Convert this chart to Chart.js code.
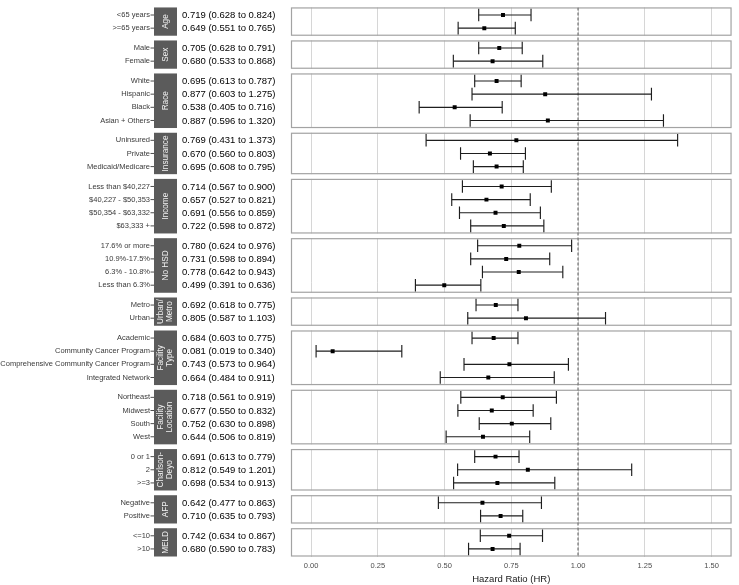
<!DOCTYPE html>
<html>
<head>
<meta charset="utf-8">
<script src="https://cdn.jsdelivr.net/npm/chart.js@4"></script>
<style>
  html, body { margin: 0; padding: 0; background: #ffffff; }
  #wrap { width: 739px; height: 585px; }
</style>
</head>
<body>
<div id="wrap"><canvas id="c" width="739" height="585"></canvas></div>
<script>
// ---- data ----
const groupNames = [['Age'], ['Sex'], ['Race'], ['Insurance'], ['Income'], ['No HSD'], ['Urban/', 'Metro'],
  ['Facility', 'Type'], ['Facility', 'Location'], ['Charlson-', 'Deyo'], ['AFP'], ['MELD']];
const groupSizes = [2, 2, 4, 3, 4, 4, 2, 4, 4, 3, 2, 2];
const categories = ['<65 years', '>=65 years', 'Male', 'Female', 'White', 'Hispanic', 'Black', 'Asian + Others',
  'Uninsured', 'Private', 'Medicaid/Medicare', 'Less than $40,227', '$40,227 - $50,353', '$50,354 - $63,332', '$63,333 +',
  '17.6% or more', '10.9%-17.5%', '6.3% - 10.8%', 'Less than 6.3%', 'Metro', 'Urban', 'Academic',
  'Community Cancer Program', 'Comprehensive Community Cancer Program', 'Integrated Network',
  'Northeast', 'Midwest', 'South', 'West', '0 or 1', '2', '>=3', 'Negative', 'Positive', '<=10', '>10'];
const hr = [0.719, 0.649, 0.705, 0.680, 0.695, 0.877, 0.538, 0.887, 0.769, 0.670, 0.695, 0.714, 0.657, 0.691, 0.722,
  0.780, 0.731, 0.778, 0.499, 0.692, 0.805, 0.684, 0.081, 0.743, 0.664, 0.718, 0.677, 0.752, 0.644, 0.691, 0.812, 0.698,
  0.642, 0.710, 0.742, 0.680];
const lower = [0.628, 0.551, 0.628, 0.533, 0.613, 0.603, 0.405, 0.596, 0.431, 0.560, 0.608, 0.567, 0.527, 0.556, 0.598,
  0.624, 0.598, 0.642, 0.391, 0.618, 0.587, 0.603, 0.019, 0.573, 0.484, 0.561, 0.550, 0.630, 0.506, 0.613, 0.549, 0.534,
  0.477, 0.635, 0.634, 0.590];
const upper = [0.824, 0.765, 0.791, 0.868, 0.787, 1.275, 0.716, 1.320, 1.373, 0.803, 0.795, 0.900, 0.821, 0.859, 0.872,
  0.976, 0.894, 0.943, 0.636, 0.775, 1.103, 0.775, 0.340, 0.964, 0.911, 0.919, 0.832, 0.898, 0.819, 0.779, 1.201, 0.913,
  0.863, 0.793, 0.867, 0.783];
const xTicks = [0, 0.25, 0.5, 0.75, 1.0, 1.25, 1.5];
const refLine = 1.0;
const xTitle = 'Hazard Ratio (HR)';

// ---- layout in row units ----
const EXTRA = 0.151, GAP = 0.36;
const rowPos = [];
const panels = [];
let cursor = 0;
groupSizes.forEach((n) => {
  const top = cursor;
  for (let k = 0; k < n; k++) rowPos.push(top + EXTRA / 2 + 0.5 + k);
  panels.push({ top: top, bottom: top + n + EXTRA });
  cursor = top + n + EXTRA + GAP;
});
const yMax = cursor - GAP;

const whiskers = [];
const caps = [];
const points = [];
rowPos.forEach((y, i) => {
  whiskers.push({ x: lower[i], y: y }, { x: upper[i], y: y }, { x: null, y: null });
  caps.push({ x: lower[i], y: y }, { x: upper[i], y: y });
  points.push({ x: hr[i], y: y });
});

const FONT = '"Liberation Sans", Arial, sans-serif';

const panelPlugin = {
  id: 'panels',
  beforeDatasetsDraw(chart) {
    const { ctx, chartArea: a, scales: { y } } = chart;
    ctx.save();
    // white gaps between panels
    ctx.fillStyle = '#ffffff';
    for (let i = 0; i < panels.length - 1; i++) {
      const b = y.getPixelForValue(panels[i].bottom);
      const t = y.getPixelForValue(panels[i + 1].top);
      ctx.fillRect(a.left - 2, b, a.right - a.left + 4, t - b);
    }
    // panel borders
    ctx.strokeStyle = '#a3a3a3';
    ctx.lineWidth = 1.2;
    panels.forEach(p => {
      const t = y.getPixelForValue(p.top);
      const b = y.getPixelForValue(p.bottom);
      ctx.strokeRect(a.left + 0.5, t + 0.5, a.right - a.left - 1, b - t - 1);
    });
    ctx.restore();
  },
  afterDraw(chart) {
    const { ctx, scales: { y } } = chart;
    ctx.save();
    // strips
    panels.forEach((p, i) => {
      const t = y.getPixelForValue(p.top);
      const b = y.getPixelForValue(p.bottom);
      ctx.fillStyle = '#5b5b5b';
      ctx.fillRect(154, t, 23, b - t);
      ctx.save();
      ctx.translate(165.5, (t + b) / 2);
      ctx.rotate(-Math.PI / 2);
      ctx.fillStyle = '#f2f2f2';
      ctx.font = '8.2px ' + FONT;
      ctx.textAlign = 'center';
      ctx.textBaseline = 'middle';
      const lines = groupNames[i];
      const lh = 8.6;
      lines.forEach((ln, k) => {
        ctx.fillText(ln, 0, (k - (lines.length - 1) / 2) * lh);
      });
      ctx.restore();
    });
    // y tick marks + HR text
    ctx.strokeStyle = '#4d4d4d';
    ctx.lineWidth = 1;
    ctx.fillStyle = '#000000';
    ctx.font = '9.5px ' + FONT;
    ctx.textAlign = 'left';
    ctx.textBaseline = 'middle';
    rowPos.forEach((v, i) => {
      const py = y.getPixelForValue(v);
      ctx.beginPath();
      ctx.moveTo(150.5, py);
      ctx.lineTo(154, py);
      ctx.stroke();
      const txt = hr[i].toFixed(3) + ' (' + lower[i].toFixed(3) + ' to ' + upper[i].toFixed(3) + ')';
      ctx.fillText(txt, 182, py + 0.5);
    });
    ctx.restore();
  }
};

new Chart(document.getElementById('c'), {
  type: 'scatter',
  data: {
    datasets: [
      {
        label: 'points', data: points, pointStyle: 'rect', pointRadius: 2.8,
        backgroundColor: '#000000', borderColor: '#000000', borderWidth: 0, order: 0
      },
      {
        label: 'caps', data: caps, pointStyle: 'line', rotation: 90, pointRadius: 6.3,
        borderColor: '#1e1e1e', pointBorderWidth: 1.15, backgroundColor: '#1e1e1e', order: 1
      },
      {
        label: 'whiskers', data: whiskers, showLine: true, spanGaps: false, pointRadius: 0,
        borderColor: '#1e1e1e', borderWidth: 1.15, order: 2
      },
      {
        label: 'ref', data: [{ x: refLine, y: 0 }, { x: refLine, y: yMax }], showLine: true, pointRadius: 0,
        borderColor: '#7a7a7a', borderWidth: 1.3, borderDash: [3, 2], order: 3
      }
    ]
  },
  options: {
    responsive: false,
    animation: false,
    devicePixelRatio: 1,
    layout: { padding: { left: 0, right: 3, top: 3, bottom: 0 } },
    plugins: { legend: { display: false }, tooltip: { enabled: false } },
    scales: {
      x: {
        type: 'linear', position: 'bottom', min: -0.075, max: 1.575,
        afterBuildTicks: (s) => { s.ticks = xTicks.map(v => ({ value: v })); },
        afterFit: (s) => { s.height = 28.5; s.paddingLeft = 0; s.paddingRight = 0; },
        grid: { color: '#d6d6d6', lineWidth: 1, drawTicks: false },
        border: { display: false },
        ticks: {
          padding: 5, color: '#4d4d4d', font: { family: FONT, size: 7.5 },
          callback: (v) => Number(v).toFixed(2)
        },
        title: {
          display: true, text: xTitle, color: '#1a1a1a',
          font: { family: FONT, size: 9.5 }, padding: { top: 0, bottom: 0 }
        }
      },
      y: {
        type: 'linear', position: 'left', min: 0, max: yMax, reverse: true,
        afterBuildTicks: (s) => { s.ticks = rowPos.map(v => ({ value: v })); },
        afterFit: (s) => { s.width = 291; s.paddingTop = 0; s.paddingBottom = 0; },
        grid: { display: false, drawTicks: false },
        border: { display: false },
        ticks: {
          autoSkip: false, padding: 141, color: '#3a3a3a', font: { family: FONT, size: 7.5 },
          callback: (v, i) => categories[i]
        }
      }
    }
  },
  plugins: [panelPlugin]
});
</script>
</body>
</html>
